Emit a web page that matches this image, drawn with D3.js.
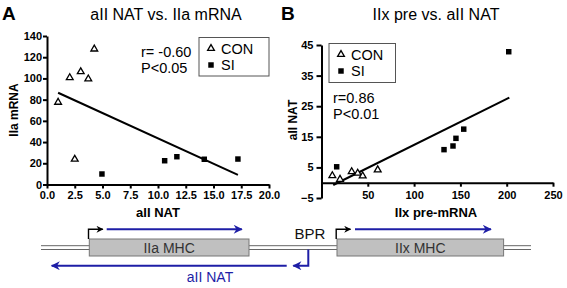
<!DOCTYPE html>
<html>
<head>
<meta charset="utf-8">
<script src="https://cdn.jsdelivr.net/npm/d3@7"></script>
<style>
  body { margin: 0; background: #fff; }
  svg { display: block; font-family: "Liberation Sans", Arial, sans-serif; }
  .axis path, .axis line { stroke: #000; stroke-width: 2; }
  .axis text { font-size: 11px; font-weight: bold; fill: #000; }
</style>
</head>
<body>
<div id="chart"></div>
<script>
// panel A: aII NAT (x) vs IIa mRNA (y)
const conA_x = [1.0, 2.05, 3.04, 3.72, 4.26, 2.5];
const conA_y = [77.5, 100.7, 106.3, 99.5, 127.7, 23.8];
const siA_x = [4.95, 10.6, 11.7, 14.17, 17.2];
const siA_y = [9.9, 22.4, 26.2, 23.8, 24.0];
const fitA = [[1.0, 86.5], [17.2, 9.0]];
const ticksA_x = [0, 2.5, 5, 7.5, 10, 12.5, 15, 17.5, 20];
const ticksA_y = [0, 20, 40, 60, 80, 100, 120, 140];
const statsA = ["r= -0.60", "P<0.05"];

// panel B: IIx pre-mRNA (x) vs aII NAT (y)
const conB_x = [11.7, 20.0, 32.6, 39.1, 44.5, 60.7];
const conB_y = [2.3, 1.1, 3.6, 3.1, 2.2, 4.2];
const siB_x = [16.4, 132.3, 142.0, 145.2, 153.6, 202.2];
const siB_y = [5.2, 10.8, 12.0, 14.5, 17.5, 42.8];
const fitB = [[12.7, -0.75], [202.8, 27.8]];
const ticksB_x = [50, 100, 150, 200, 250];
const ticksB_y = [-5, 5, 15, 25, 35, 45];
const statsB = ["r=0.86", "P<0.01"];

const legendLabels = ["CON", "SI"];

const width = 567, height = 288;
const blue = "#1e1ea6";

const svg = d3.select("#chart").append("svg")
    .attr("width", width)
    .attr("height", height);

// arrow heads
const defs = svg.append("defs");
function marker(id, color, w, h) {
    defs.append("marker")
        .attr("id", id)
        .attr("viewBox", "0 0 10 10")
        .attr("refX", 9).attr("refY", 5)
        .attr("markerWidth", w).attr("markerHeight", h)
        .attr("markerUnits", "userSpaceOnUse")
        .attr("orient", "auto")
        .append("path")
        .attr("d", "M0,0 L10,5 L0,10 L3,5 Z")
        .attr("fill", color);
}
marker("arrBlue", blue, 11, 9);
marker("arrBlack", "#000", 8, 7);

const tri = d3.symbol().type(d3.symbolTriangle).size(20);
const sq = d3.symbol().type(d3.symbolSquare).size(30);

function drawPanel(cfg) {
    const g = svg.append("g");

    g.append("g").attr("class", "axis")
        .attr("transform", `translate(0,${cfg.xAxisY})`)
        .call(d3.axisBottom(cfg.x).tickValues(cfg.xTicks).tickFormat(cfg.xFmt)
            .tickSize(4).tickPadding(cfg.xPad).tickSizeOuter(0));

    g.append("g").attr("class", "axis")
        .attr("transform", `translate(${cfg.x.range()[0]},0)`)
        .call(d3.axisLeft(cfg.y).tickValues(cfg.yTicks)
            .tickSize(cfg.yTickSize).tickPadding(cfg.yPad).tickSizeOuter(0));

    // regression line
    g.append("line")
        .attr("x1", cfg.x(cfg.fit[0][0])).attr("y1", cfg.y(cfg.fit[0][1]))
        .attr("x2", cfg.x(cfg.fit[1][0])).attr("y2", cfg.y(cfg.fit[1][1]))
        .attr("stroke", "#000").attr("stroke-width", 2);

    g.selectAll(".con").data(cfg.conX.map((v, i) => [v, cfg.conY[i]]))
        .enter().append("path")
        .attr("d", tri)
        .attr("transform", d => `translate(${cfg.x(d[0])},${cfg.y(d[1])})`)
        .attr("fill", "#fff").attr("stroke", "#000").attr("stroke-width", 1.3);

    g.selectAll(".si").data(cfg.siX.map((v, i) => [v, cfg.siY[i]]))
        .enter().append("path")
        .attr("d", sq)
        .attr("transform", d => `translate(${cfg.x(d[0])},${cfg.y(d[1])})`)
        .attr("fill", "#000");

    // titles
    g.append("text").attr("x", cfg.letterX).attr("y", 20)
        .attr("font-size", 19).attr("font-weight", "bold").text(cfg.letter);
    g.append("text").attr("x", cfg.titleX).attr("y", 20)
        .attr("text-anchor", "middle").attr("font-size", 16).text(cfg.title);
    g.append("text").attr("x", cfg.xTitleX).attr("y", 217)
        .attr("text-anchor", "middle").attr("font-size", 13).attr("font-weight", "bold")
        .text(cfg.xTitle);
    g.append("text")
        .attr("transform", `translate(${cfg.yTitleX},${cfg.yTitleY}) rotate(-90)`)
        .attr("text-anchor", "middle").attr("font-size", 12).attr("font-weight", "bold")
        .text(cfg.yTitle);

    // stats
    g.selectAll(".stat").data(cfg.stats).enter().append("text")
        .attr("x", cfg.statX).attr("y", (d, i) => cfg.statY + i * 16)
        .attr("font-size", 14.5).text(d => d);

    // legend
    const lg = g.append("g").attr("transform", `translate(${cfg.leg[0]},${cfg.leg[1]})`);
    lg.append("rect").attr("width", cfg.leg[2]).attr("height", cfg.leg[3])
        .attr("fill", "#fff").attr("stroke", "#555").attr("stroke-width", 1);
    legendLabels.forEach((lab, i) => {
        const yy = 11 + i * 16.5;
        lg.append("path").attr("d", i === 0 ? tri : sq)
            .attr("transform", `translate(12,${yy})`)
            .attr("fill", i === 0 ? "#fff" : "#000")
            .attr("stroke", i === 0 ? "#000" : "none").attr("stroke-width", 1.3);
        lg.append("text").attr("x", 22).attr("y", yy + 5)
            .attr("font-size", 14.5).text(lab);
    });
}

drawPanel({
    x: d3.scaleLinear().domain([0, 20]).range([47, 269]),
    y: d3.scaleLinear().domain([0, 140]).range([184.5, 36]),
    xAxisY: 184.5, xTicks: ticksA_x, xFmt: d3.format(".1f"), xPad: 3,
    yTicks: ticksA_y, yTickSize: 4, yPad: 1,
    fit: fitA, conX: conA_x, conY: conA_y, siX: siA_x, siY: siA_y,
    letter: "A", letterX: 2, title: "aII NAT vs. IIa mRNA", titleX: 166,
    xTitle: "aII NAT", xTitleX: 158, yTitle: "IIa mRNA", yTitleX: 18, yTitleY: 110,
    stats: statsA, statX: 141, statY: 57,
    leg: [199, 37.5, 70, 38.5]
});

const xB = d3.scaleLinear().domain([0, 250]).range([321.5, 553]);
const yB = d3.scaleLinear().domain([-5, 45]).range([198, 45]);
drawPanel({
    x: xB, y: yB,
    xAxisY: yB(0), xTicks: ticksB_x, xFmt: d3.format("d"), xPad: 5,
    yTicks: ticksB_y, yTickSize: 5, yPad: 3,
    fit: fitB, conX: conB_x, conY: conB_y, siX: siB_x, siY: siB_y,
    letter: "B", letterX: 281, title: "IIx pre vs. aII NAT", titleX: 436,
    xTitle: "IIx pre-mRNA", xTitleX: 436, yTitle: "aII NAT", yTitleX: 297, yTitleY: 120,
    stats: statsB, statX: 333, statY: 103,
    leg: [329, 43.5, 66.5, 39]
});

// gene diagram
const dg = svg.append("g");
[245.7, 249.5].forEach(yy => {
    dg.append("line").attr("x1", 41).attr("x2", 531).attr("y1", yy).attr("y2", yy)
        .attr("stroke", "#666").attr("stroke-width", 1);
});
const genes = [
    {name: "IIa MHC", x0: 89.3, x1: 249, arrow: [106.7, 241.8]},
    {name: "IIx MHC", x0: 337, x1: 503.6, arrow: [355, 490.9]}
];
genes.forEach(gn => {
    dg.append("rect").attr("x", gn.x0).attr("y", 239)
        .attr("width", gn.x1 - gn.x0).attr("height", 17)
        .attr("fill", "#c0c0c0").attr("stroke", "#777").attr("stroke-width", 1);
    dg.append("text").attr("x", (gn.x0 + gn.x1) / 2).attr("y", 252.5)
        .attr("text-anchor", "middle").attr("font-size", 14).attr("fill", "#333")
        .text(gn.name);
    // promoter
    dg.append("path")
        .attr("d", `M${gn.x0 - 0.8},239 V229.3 H${gn.x0 + 13.5}`)
        .attr("fill", "none").attr("stroke", "#000").attr("stroke-width", 1.4)
        .attr("marker-end", "url(#arrBlack)");
    // transcript
    dg.append("line").attr("x1", gn.arrow[0]).attr("x2", gn.arrow[1])
        .attr("y1", 229.3).attr("y2", 229.3)
        .attr("stroke", blue).attr("stroke-width", 2)
        .attr("marker-end", "url(#arrBlue)");
});
dg.append("text").attr("x", 310).attr("y", 238.5).attr("text-anchor", "middle")
    .attr("font-size", 15).attr("fill", "#111").text("BPR");
dg.append("path").attr("d", "M308.3,249.5 V265.7 H293.3")
    .attr("fill", "none").attr("stroke", blue).attr("stroke-width", 2)
    .attr("marker-end", "url(#arrBlue)");
dg.append("line").attr("x1", 286.7).attr("x2", 51.7).attr("y1", 265.7).attr("y2", 265.7)
    .attr("stroke", blue).attr("stroke-width", 2)
    .attr("marker-end", "url(#arrBlue)");
dg.append("text").attr("x", 210).attr("y", 282).attr("text-anchor", "middle")
    .attr("font-size", 14).attr("fill", blue).text("aII NAT");
</script>
</body>
</html>
